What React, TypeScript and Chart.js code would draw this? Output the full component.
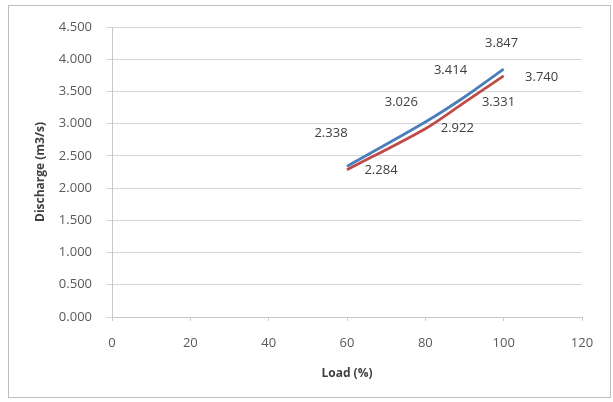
import React, { useEffect, useRef } from "react";
import { Chart, registerables } from "chart.js";

Chart.register(...registerables);

// Load points (%) and discharge (m3/s) for the two cases
const loads = [60, 80, 90, 100];
const dischargeA = [2.338, 3.026, 3.414, 3.847];
const dischargeB = [2.284, 2.922, 3.331, 3.74];

const xTicks = [0, 20, 40, 60, 80, 100, 120];
const yMin = 0;
const yMax = 4.5;
const yStep = 0.5;

// Per-point label placement (pixel offsets from the point)
const labelShiftA = [
  [-16, -33],
  [-24, -20],
  [-14, -27],
  [-2, -26],
];
const labelShiftB = [
  [34, 0],
  [32, 0],
  [34, 0],
  [38, 1],
];

const FONT = "'Open Sans', 'Liberation Sans', sans-serif";

const valueLabels = {
  id: "valueLabels",
  afterDatasetsDraw(chart: any) {
    const ctx = chart.ctx;
    ctx.save();
    ctx.font = `13px ${FONT}`;
    ctx.fillStyle = "#404040";
    ctx.textAlign = "center";
    ctx.textBaseline = "middle";
    chart.data.datasets.forEach((ds: any, i: number) => {
      const meta = chart.getDatasetMeta(i);
      const shifts = ds.labelShift as number[][];
      meta.data.forEach((pt: any, j: number) => {
        const v = ds.data[j].y as number;
        const [dx, dy] = shifts[j];
        ctx.fillText(v.toFixed(3), pt.x + dx, pt.y + dy);
      });
    });
    ctx.restore();
  },
};

export default function App() {
  const canvasRef = useRef<HTMLCanvasElement | null>(null);

  useEffect(() => {
    const canvas = canvasRef.current;
    if (!canvas) return;
    const chart = new Chart(canvas, {
      type: "line",
      data: {
        datasets: [
          {
            label: "A",
            data: loads.map((x, i) => ({ x, y: dischargeA[i] })),
            borderColor: "#4a7ebb",
            borderWidth: 2.75,
            pointRadius: 0,
            tension: 0.3,
            fill: false,
            labelShift: labelShiftA,
          } as any,
          {
            label: "B",
            data: loads.map((x, i) => ({ x, y: dischargeB[i] })),
            borderColor: "#be4b48",
            borderWidth: 2.75,
            pointRadius: 0,
            tension: 0.3,
            fill: false,
            labelShift: labelShiftB,
          } as any,
        ],
      },
      options: {
        animation: false,
        responsive: false,
        maintainAspectRatio: false,
        layout: { padding: { top: 27, right: 31, bottom: 0, left: 0 } },
        plugins: {
          legend: { display: false },
          tooltip: { enabled: false },
        },
        scales: {
          x: {
            type: "linear",
            min: xTicks[0],
            max: xTicks[xTicks.length - 1],
            afterBuildTicks: (scale: any) => {
              scale.ticks = xTicks.map((v) => ({ value: v }));
            },
            afterFit: (scale: any) => {
              scale.height = 85;
            },
            grid: {
              drawOnChartArea: false,
              drawTicks: true,
              tickLength: 4,
              color: "#c8c8c8",
            },
            border: { color: "#c8c8c8", width: 1 },
            ticks: {
              color: "#595959",
              font: { family: FONT, size: 13 },
              padding: 14,
              maxRotation: 0,
            },
            title: {
              display: true,
              text: "Load (%)",
              color: "#404040",
              font: { family: FONT, size: 12, weight: "bold" },
              padding: { top: 0, bottom: 21 },
            },
          },
          y: {
            type: "linear",
            min: yMin,
            max: yMax,
            ticks: {
              stepSize: yStep,
              color: "#595959",
              font: { family: FONT, size: 13 },
              padding: 14,
              callback: (v: any) => Number(v).toFixed(3),
            },
            afterFit: (scale: any) => {
              scale.width = 112;
            },
            grid: {
              color: "#d6d6d6",
              lineWidth: 1,
              tickLength: 6,
            },
            border: { color: "#c8c8c8", width: 1 },
            title: {
              display: true,
              text: "Discharge (m3/s)",
              color: "#404040",
              font: { family: FONT, size: 12, weight: "bold" },
              padding: { top: 33, bottom: 0 },
            },
          },
        },
      },
      plugins: [valueLabels],
    });
    return () => chart.destroy();
  }, []);

  return (
    <div
      style={{
        position: "absolute",
        left: 0,
        top: 0,
        width: 613,
        height: 402,
        background: "#ffffff",
      }}
    >
      <div
        style={{
          position: "absolute",
          left: 8,
          top: 5,
          width: 603,
          height: 393,
          border: "1px solid #bdbdbd",
          boxSizing: "border-box",
        }}
      />
      <canvas
        ref={canvasRef}
        width={613}
        height={402}
        style={{ position: "absolute", left: 0, top: 0, width: 613, height: 402 }}
      />
    </div>
  );
}
